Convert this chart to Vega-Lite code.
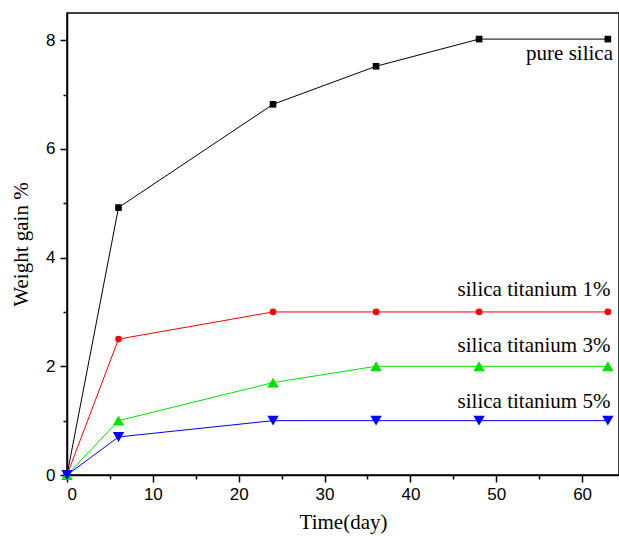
{
  "$schema": "https://vega.github.io/schema/vega-lite/v6.json",
  "autosize": "none",
  "width": 552,
  "height": 462,
  "padding": {"left": 67, "top": 13, "right": 0, "bottom": 66},
  "background": "white",
  "config": {
    "view": {"stroke": "black", "strokeWidth": 1.5},
    "axis": {"grid": false, "domainColor": "black", "domainWidth": 1.5, "tickColor": "black", "tickWidth": 1.5, "labelColor": "black", "titleColor": "black", "labelFont": "Liberation Sans", "labelFontSize": 17, "titleFont": "Liberation Serif", "titleFontSize": 21, "titleFontWeight": "normal"}
  },
  "datasets": {
    "series": [
      {"day": 0, "gain": 0, "s": "pure silica"},
      {"day": 6, "gain": 4.92, "s": "pure silica"},
      {"day": 24, "gain": 6.82, "s": "pure silica"},
      {"day": 36, "gain": 7.52, "s": "pure silica"},
      {"day": 48, "gain": 8.02, "s": "pure silica"},
      {"day": 63, "gain": 8.02, "s": "pure silica"},
      {"day": 0, "gain": 0, "s": "silica titanium 1%"},
      {"day": 6, "gain": 2.5, "s": "silica titanium 1%"},
      {"day": 24, "gain": 3.0, "s": "silica titanium 1%"},
      {"day": 36, "gain": 3.0, "s": "silica titanium 1%"},
      {"day": 48, "gain": 3.0, "s": "silica titanium 1%"},
      {"day": 63, "gain": 3.0, "s": "silica titanium 1%"},
      {"day": 0, "gain": 0, "s": "silica titanium 3%"},
      {"day": 6, "gain": 1.0, "s": "silica titanium 3%"},
      {"day": 24, "gain": 1.7, "s": "silica titanium 3%"},
      {"day": 36, "gain": 2.0, "s": "silica titanium 3%"},
      {"day": 48, "gain": 2.0, "s": "silica titanium 3%"},
      {"day": 63, "gain": 2.0, "s": "silica titanium 3%"},
      {"day": 0, "gain": 0, "s": "silica titanium 5%"},
      {"day": 6, "gain": 0.7, "s": "silica titanium 5%"},
      {"day": 24, "gain": 1.0, "s": "silica titanium 5%"},
      {"day": 36, "gain": 1.0, "s": "silica titanium 5%"},
      {"day": 48, "gain": 1.0, "s": "silica titanium 5%"},
      {"day": 63, "gain": 1.0, "s": "silica titanium 5%"}
    ],
    "labels": [
      {"day": 63.6, "gain": 7.63, "label": "pure silica"},
      {"day": 63.3, "gain": 3.3, "label": "silica titanium 1%"},
      {"day": 63.3, "gain": 2.26, "label": "silica titanium 3%"},
      {"day": 63.3, "gain": 1.24, "label": "silica titanium 5%"}
    ],
    "minor": [
      {"mx": 5, "my": 1}, {"mx": 15, "my": 3}, {"mx": 25, "my": 5}, {"mx": 35, "my": 7}, {"mx": 45, "my": 1}, {"mx": 55, "my": 1}
    ]
  },
  "layer": [
    {
      "data": {"name": "series"},
      "mark": {"type": "line", "strokeWidth": 1, "clip": true},
      "encoding": {
        "x": {"field": "day", "type": "quantitative", "scale": {"domain": [0, 64.3], "nice": false, "zero": false}, "axis": {"title": "Time(day)", "values": [0, 10, 20, 30, 40, 50, 60], "tickSize": 7, "labelPadding": 4, "titlePadding": 9}},
        "y": {"field": "gain", "type": "quantitative", "scale": {"domain": [0, 8.5], "nice": false}, "axis": {"title": "Weight gain %", "values": [0, 2, 4, 6, 8], "tickSize": 7, "labelPadding": 5, "titlePadding": 14}},
        "color": {"field": "s", "type": "nominal", "scale": {"domain": ["pure silica", "silica titanium 1%", "silica titanium 3%", "silica titanium 5%"], "range": ["#000000", "#ff0000", "#00e000", "#0000ff"]}, "legend": null}
      }
    },
    {
      "data": {"name": "series"},
      "transform": [{"filter": "datum.s == 'pure silica' || datum.s == 'silica titanium 1%'"}],
      "mark": {"type": "point", "filled": true, "opacity": 1, "clip": false, "size": 44},
      "encoding": {
        "x": {"field": "day", "type": "quantitative", "axis": null},
        "y": {"field": "gain", "type": "quantitative", "axis": null},
        "color": {"field": "s", "type": "nominal", "legend": null},
        "shape": {"field": "s", "type": "nominal", "scale": {"domain": ["pure silica", "silica titanium 1%", "silica titanium 3%", "silica titanium 5%"], "range": ["square", "circle", "triangle-up", "triangle-down"]}, "legend": null}
      }
    },
    {
      "data": {"name": "series"},
      "transform": [{"filter": "datum.s == 'silica titanium 3%' || datum.s == 'silica titanium 5%'"}],
      "mark": {"type": "point", "filled": true, "opacity": 1, "clip": false, "size": 130},
      "encoding": {
        "x": {"field": "day", "type": "quantitative", "axis": null},
        "y": {"field": "gain", "type": "quantitative", "axis": null},
        "color": {"field": "s", "type": "nominal", "legend": null},
        "shape": {"field": "s", "type": "nominal", "legend": null}
      }
    },
    {
      "data": {"name": "labels"},
      "mark": {"type": "text", "align": "right", "baseline": "alphabetic", "font": "Liberation Serif", "fontSize": 21, "color": "black"},
      "encoding": {
        "x": {"field": "day", "type": "quantitative", "axis": null},
        "y": {"field": "gain", "type": "quantitative", "axis": null},
        "text": {"field": "label"}
      }
    },
    {
      "data": {"name": "minor"},
      "mark": {"type": "point", "opacity": 0},
      "encoding": {
        "x": {"field": "mx", "type": "quantitative", "axis": {"orient": "bottom", "values": [5, 15, 25, 35, 45, 55], "labels": false, "title": null, "domain": false, "tickSize": 4}},
        "y": {"field": "my", "type": "quantitative", "axis": {"orient": "left", "values": [1, 3, 5, 7], "labels": false, "title": null, "domain": false, "tickSize": 4}}
      }
    }
  ],
  "resolve": {"axis": {"x": "independent", "y": "independent"}}
}
